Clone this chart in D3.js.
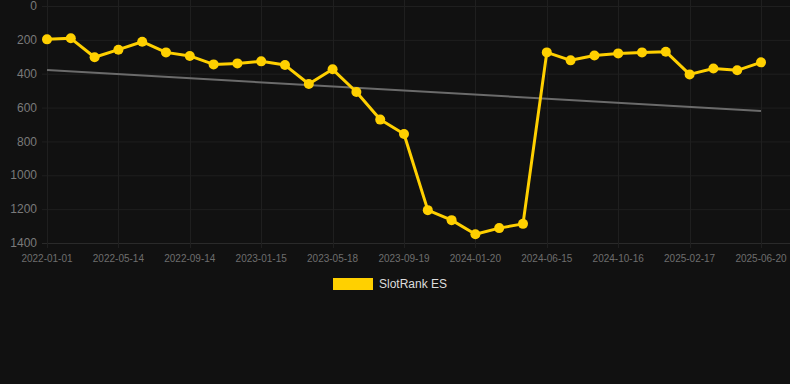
<!DOCTYPE html>
<html>
<head>
<meta charset="utf-8">
<script src="https://cdn.jsdelivr.net/npm/d3@7"></script>
<style>
  html, body { margin: 0; padding: 0; background: #111111; }
  svg { display: block; }
</style>
</head>
<body>
<div id="viz"></div>
<script>
// chart size
var w = 790
var h = 384

// data
var seriesName = "SlotRank ES"
var ranks = [197, 191, 303, 258, 211, 274, 295, 345, 339, 327, 349, 461, 374, 508, 671, 756,
  1206, 1265, 1348, 1312, 1287, 274, 321, 292, 280, 274, 270, 404, 369, 380, 333]
var tickLabels = ["2022-01-01", "2022-05-14", "2022-09-14", "2023-01-15", "2023-05-18", "2023-09-19",
  "2024-01-20", "2024-06-15", "2024-10-16", "2025-02-17", "2025-06-20"]
var tickEvery = 3
var yTicks = [0, 200, 400, 600, 800, 1000, 1200, 1400]

var gold = "#ffd000"

var svg = d3.select("#viz")
  .append("svg")
  .attr("width", w)
  .attr("height", h)

svg.append("rect").attr("width", w).attr("height", h).attr("fill", "#111111")

var x = d3.scalePoint()
  .domain(d3.range(ranks.length))
  .range([47, 761])

var y = d3.scaleLinear()
  .domain([0, 1400])
  .range([6, 243])

// horizontal grid
svg.append("g").selectAll("line").data(yTicks)
  .enter().append("line")
  .attr("x1", 42).attr("x2", w)
  .attr("y1", d => y(d) + 0.5).attr("y2", d => y(d) + 0.5)
  .attr("stroke", d => d === 1400 ? "#2a2a2a" : "#1f1f1f")
  .attr("stroke-width", 1)

// vertical grid at labelled ticks
var tickIdx = tickLabels.map((d, i) => i * tickEvery)
svg.append("g").selectAll("line").data(tickIdx)
  .enter().append("line")
  .attr("x1", d => Math.round(x(d)) + 0.5).attr("x2", d => Math.round(x(d)) + 0.5)
  .attr("y1", 0).attr("y2", 248)
  .attr("stroke", "#1f1f1f")
  .attr("stroke-width", 1)

// y labels
svg.append("g").selectAll("text").data(yTicks)
  .enter().append("text")
  .attr("x", 37)
  .attr("y", d => y(d))
  .attr("dy", "0.35em")
  .attr("text-anchor", "end")
  .attr("font-family", "Liberation Sans, Arial, sans-serif")
  .attr("font-size", 12)
  .attr("fill", "#7a7a7a")
  .text(d => d)

// x labels
svg.append("g").selectAll("text").data(tickLabels)
  .enter().append("text")
  .attr("x", (d, i) => x(i * tickEvery))
  .attr("y", 262)
  .attr("text-anchor", "middle")
  .attr("font-family", "Liberation Sans, Arial, sans-serif")
  .attr("font-size", 10)
  .attr("fill", "#6e6e6e")
  .text(d => d)

// trend line (least squares over the series)
var n = ranks.length
var mx = d3.mean(d3.range(n))
var my = d3.mean(ranks)
var slope = d3.sum(d3.range(n), i => (i - mx) * (ranks[i] - my)) / d3.sum(d3.range(n), i => (i - mx) * (i - mx))
var icept = my - slope * mx

svg.append("line")
  .attr("x1", x(0)).attr("y1", y(icept))
  .attr("x2", x(n - 1)).attr("y2", y(icept + slope * (n - 1)))
  .attr("stroke", "#6b6b6b")
  .attr("stroke-width", 2)

// series line
var line = d3.line()
  .x((d, i) => x(i))
  .y(d => y(d))

svg.append("path")
  .datum(ranks)
  .attr("d", line)
  .attr("fill", "none")
  .attr("stroke", gold)
  .attr("stroke-width", 3)
  .attr("stroke-linejoin", "round")

svg.append("g").selectAll("circle").data(ranks)
  .enter().append("circle")
  .attr("cx", (d, i) => x(i))
  .attr("cy", d => y(d))
  .attr("r", 5)
  .attr("fill", gold)

// legend
svg.append("rect")
  .attr("x", 333).attr("y", 278)
  .attr("width", 40).attr("height", 12)
  .attr("fill", gold)

svg.append("text")
  .attr("x", 379).attr("y", 284)
  .attr("dy", "0.35em")
  .attr("font-family", "Liberation Sans, Arial, sans-serif")
  .attr("font-size", 12)
  .attr("fill", "#dddddd")
  .text(seriesName)
</script>
</body>
</html>
